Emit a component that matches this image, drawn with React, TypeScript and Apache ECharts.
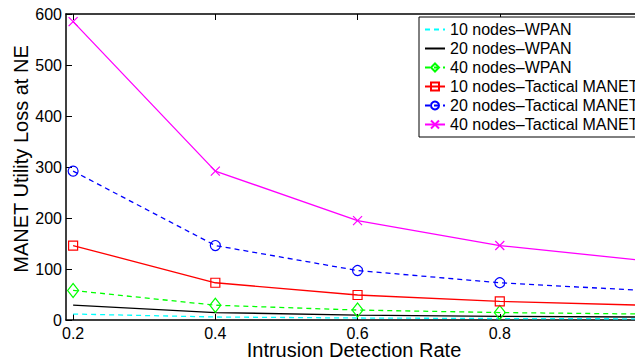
import React, { useEffect, useRef } from "react";
import * as echarts from "echarts";

const rates = [0.2, 0.4, 0.6, 0.8, 1.0];
const xTicks = [0.2, 0.4, 0.6, 0.8, 1.0];
const xTickLabels = [0.2, 0.4, 0.6, 0.8];
const wpan10 = [11.7, 5.9, 3.9, 2.9, 2.3];
const wpan20 = [29, 14.6, 9.7, 7.3, 5.8];
const wpan40 = [58, 29, 19.5, 14.6, 11.7];
const tac10 = [146, 73, 49, 36.5, 29];
const tac20 = [292, 146, 97, 73, 58];
const tac40 = [585, 292, 195, 146, 117];

const FONT = "Liberation Sans, Arial, Helvetica, sans-serif";

const pair = (ys: number[]) => rates.map((x, i) => [x, ys[i]]);

export default function App() {
  const ref = useRef<HTMLDivElement>(null);
  useEffect(() => {
    document.body.style.margin = "0";
    document.body.style.overflow = "hidden";
    const chart = echarts.init(ref.current!, null, { renderer: "svg" });
    const axisCommon = {
      type: "value" as const,
      min: 0.19,
      max: 1.0,
      splitLine: { show: false },
      axisLine: { show: true, lineStyle: { color: "#000", width: 1.5 } },
    };
    const mk = (
      name: string,
      ys: number[],
      color: string,
      dashed: boolean,
      symbol: string,
      symbolSize: any
    ) => {
      const noMark = symbol === "none";
      return {
        name,
        type: "line",
        data: pair(ys),
        symbol: noMark ? "circle" : symbol,
        symbolSize,
        showSymbol: !noMark,
        lineStyle: { color, width: 1.3, type: dashed ? [5, 4] : "solid" },
        itemStyle: noMark
          ? { color: "rgba(0,0,0,0)", borderColor: "rgba(0,0,0,0)", borderWidth: 0 }
          : { color: "rgba(0,0,0,0)", borderColor: color, borderWidth: 1.2 },
        z: 2,
      };
    };
    chart.setOption({
      animation: false,
      backgroundColor: "#fff",
      grid: { left: 66, top: 14, width: 576, height: 306, containLabel: false, outerBoundsMode: "none" },
      xAxis: [
        {
          ...axisCommon,
          position: "bottom",
          name: "Intrusion Detection Rate",
          nameLocation: "middle",
          nameGap: 21,
          nameMoveOverlap: false,
          nameTextStyle: { fontFamily: FONT, fontSize: 20, color: "#000", lineHeight: 18 },
          axisTick: { show: true, inside: true, length: 6, customValues: xTicks, lineStyle: { color: "#000" } },
          axisLabel: {
            customValues: xTickLabels,
            fontFamily: FONT,
            fontSize: 16,
            lineHeight: 14,
            color: "#000",
            margin: 6,
          },
        },
        {
          ...axisCommon,
          position: "top",
          axisTick: { show: true, inside: true, length: 6, customValues: xTicks, lineStyle: { color: "#000" } },
          axisLabel: { show: false },
        },
      ],
      yAxis: {
        type: "value",
        min: 0,
        max: 600,
        interval: 100,
        splitLine: { show: false },
        axisLine: { show: true, lineStyle: { color: "#000", width: 1.5 } },
        axisTick: { show: true, inside: true, length: 6, lineStyle: { color: "#000" } },
        axisLabel: { fontFamily: FONT, fontSize: 16, color: "#000", margin: 4 },
        name: "MANET Utility Loss at NE",
        nameLocation: "middle",
        nameRotate: 90,
        nameGap: 35,
        nameMoveOverlap: false,
        nameTextStyle: { fontFamily: FONT, fontSize: 20, color: "#000", padding: [0, 0, 0, 16] },
      },
      legend: {
        orient: "vertical",
        left: 419,
        top: 17,
        padding: [3, 30, 3, 5],
        itemGap: 0,
        itemWidth: 20,
        itemHeight: 10,
        borderColor: "#000",
        borderWidth: 1,
        backgroundColor: "#fff",
        textStyle: { fontFamily: FONT, fontSize: 16, color: "#000", lineHeight: 19 },
        data: [
          "10 nodes\u2013WPAN",
          "20 nodes\u2013WPAN",
          "40 nodes\u2013WPAN",
          "10 nodes\u2013Tactical MANET",
          "20 nodes\u2013Tactical MANET",
          "40 nodes\u2013Tactical MANET",
        ],
      },
      series: [
        mk("10 nodes\u2013WPAN", wpan10, "#00ffff", true, "none", 0),
        mk("20 nodes\u2013WPAN", wpan20, "#000000", false, "none", 0),
        mk("40 nodes\u2013WPAN", wpan40, "#00ff00", true, "diamond", [11, 14]),
        mk("10 nodes\u2013Tactical MANET", tac10, "#ff0000", false, "rect", 9),
        mk("20 nodes\u2013Tactical MANET", tac20, "#0000ff", true, "circle", 10),
        mk("40 nodes\u2013Tactical MANET", tac40, "#ff00ff", false, "path://M0,0L10,10M10,0L0,10", 9),
      ],
    });
    return () => chart.dispose();
  }, []);
  return (
    <div style={{ width: 635, height: 363, overflow: "hidden" }}>
      <div ref={ref} style={{ width: 660, height: 363 }} />
    </div>
  );
}
